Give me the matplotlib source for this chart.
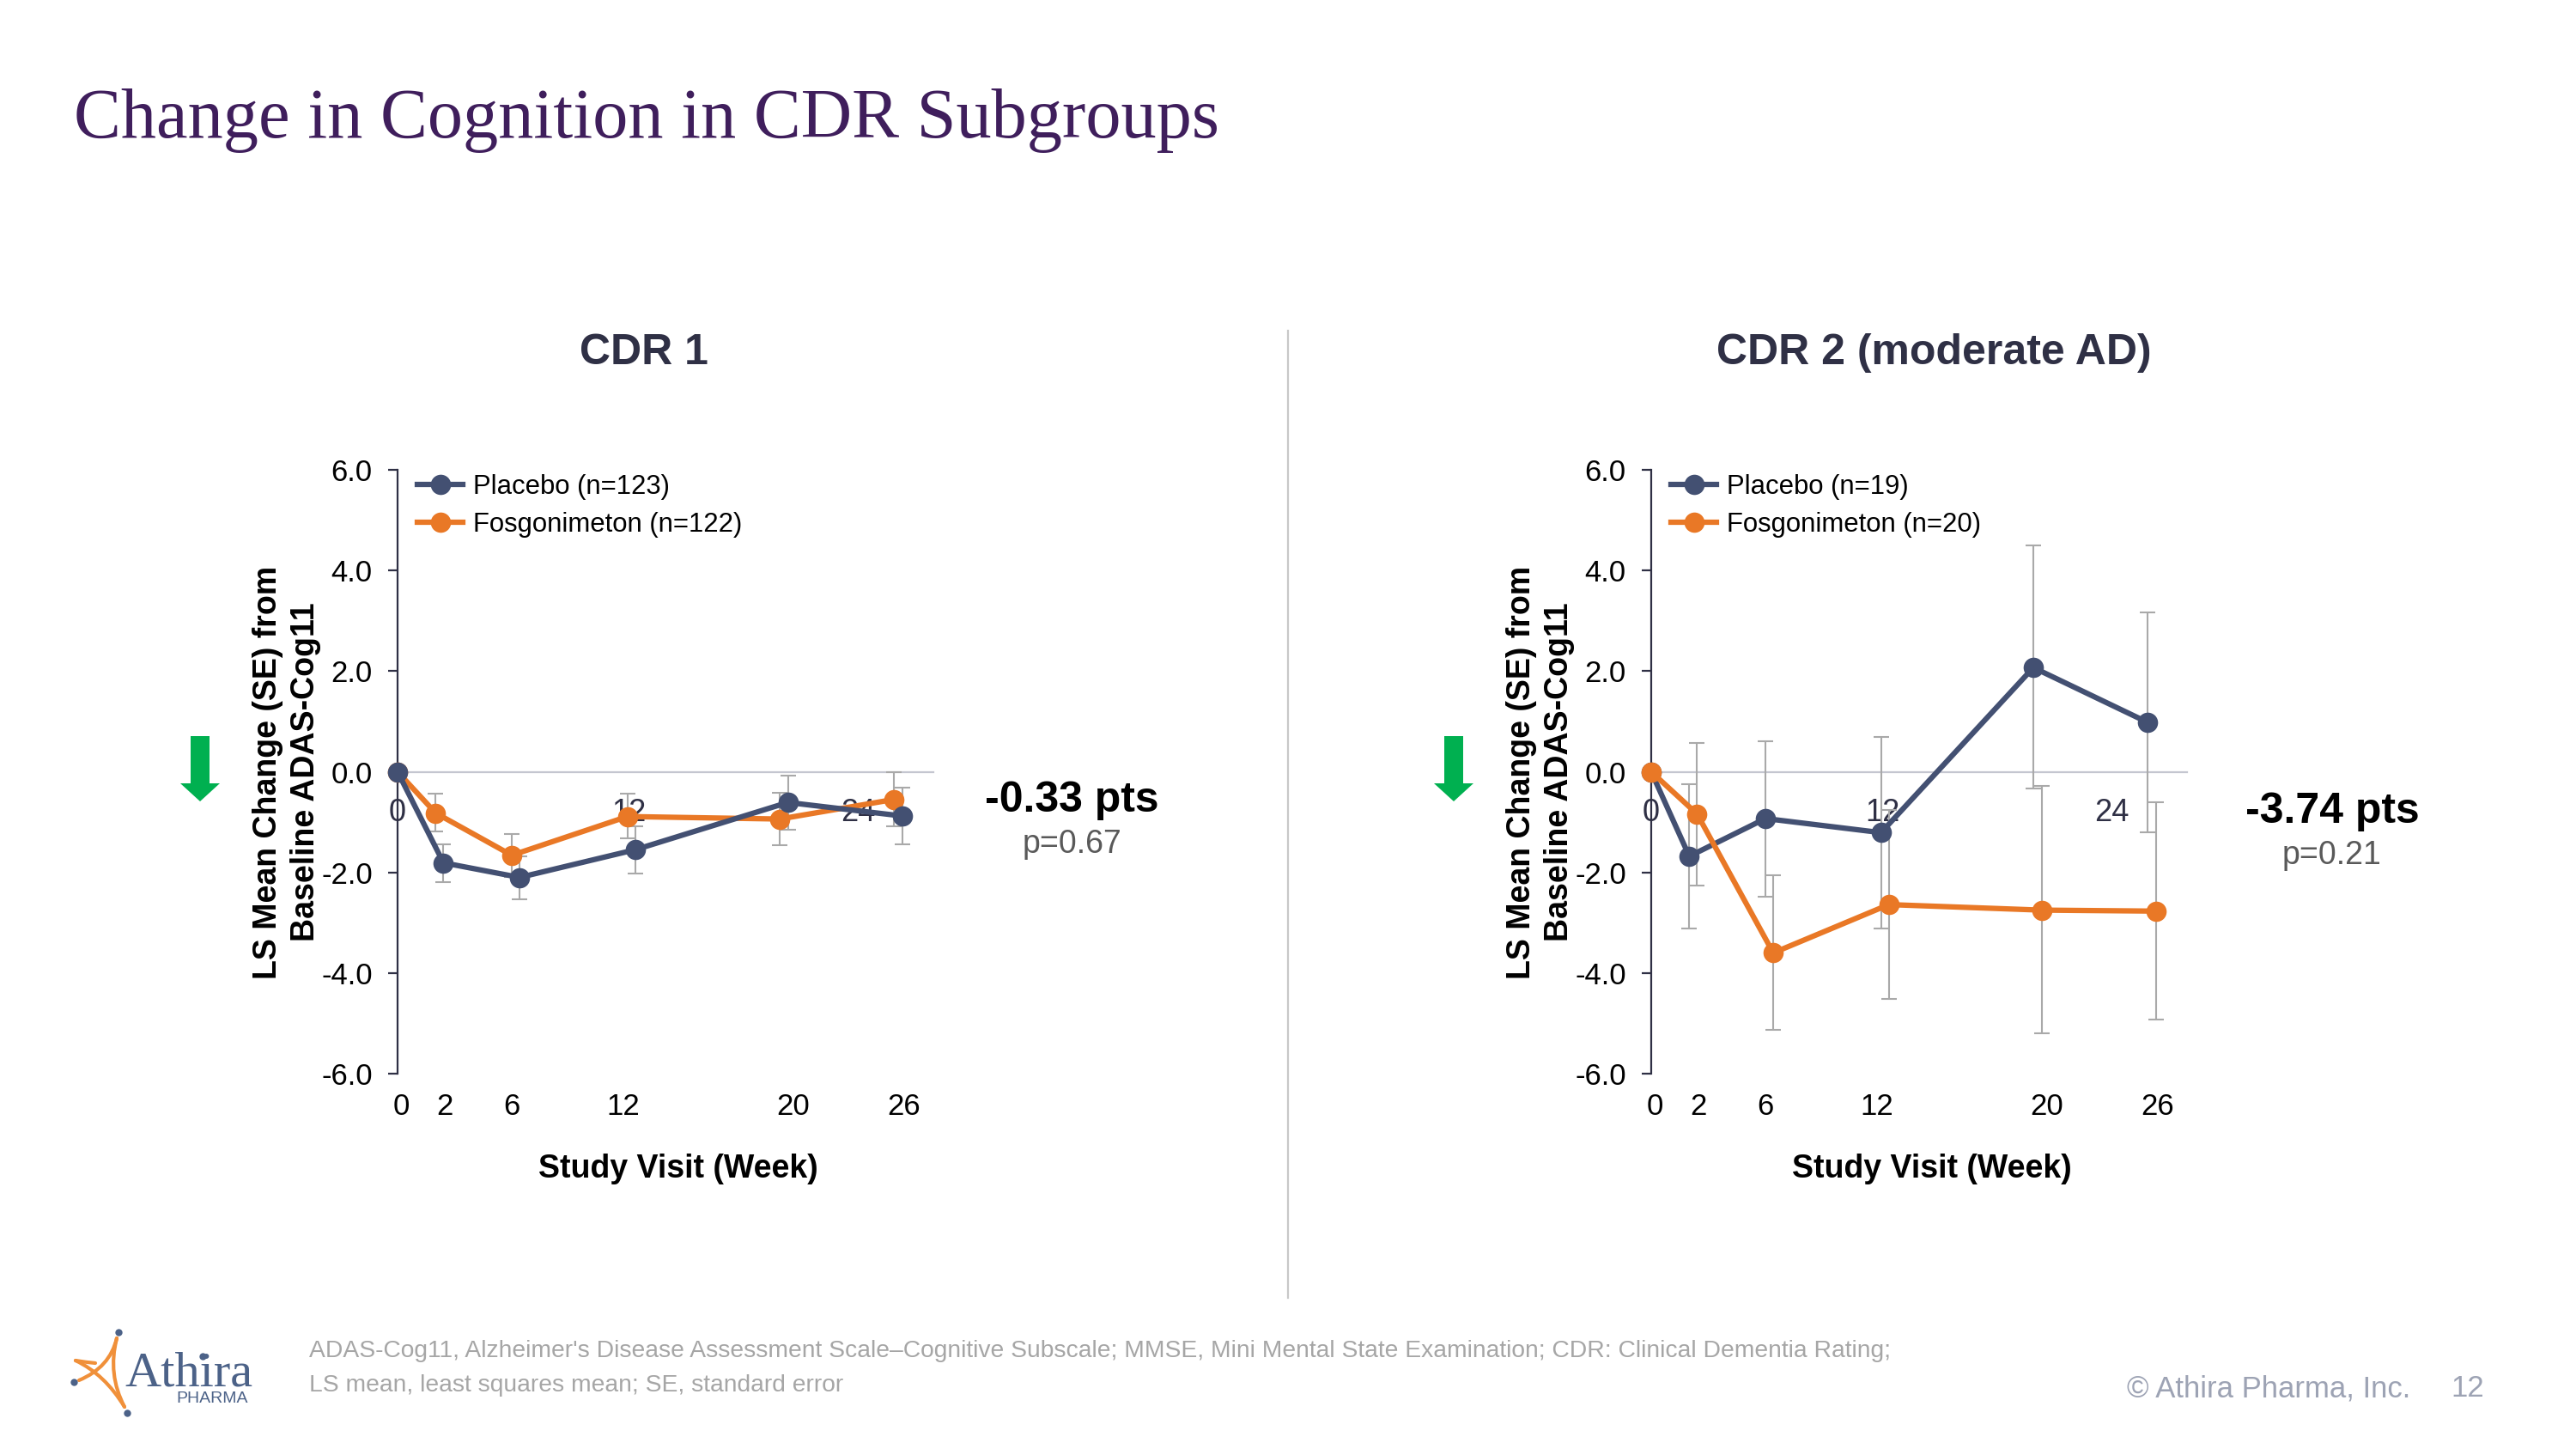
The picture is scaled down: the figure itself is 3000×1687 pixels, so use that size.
#!/usr/bin/python3

import matplotlib
matplotlib.use('Agg')
import matplotlib.pyplot as plt
from matplotlib.path import Path
from matplotlib.patches import PathPatch, Polygon

plt.rcParams['font.family'] = ['Liberation Sans', 'DejaVu Sans']
plt.rcParams['axes.unicode_minus'] = False

W = 3000
H = 1687
BLUE = '#435072'
ORANGE = '#E97826'
DARK = '#2F3045'
ERR = '#A9A9A9'
GREY = '#A6A6A6'

# week positions as drawn, the two series are dodged
x_a = [0, 2.0, 6.0, 12.07, 20.07, 26.08]
x_b = [0, 2.41, 6.41, 12.48, 20.5, 26.52]

# CDR 1
placebo_1 = [0, -1.81, -2.10, -1.55, -0.61, -0.88]
placebo_1_hi = [0, -1.44, -1.68, -1.09, -0.08, -0.31]
placebo_1_lo = [0, -2.20, -2.53, -2.02, -1.16, -1.44]
fosgo_1 = [0, -0.82, -1.66, -0.89, -0.94, -0.55]
fosgo_1_hi = [0, -0.44, -1.23, -0.43, -0.41, 0.0]
fosgo_1_lo = [0, -1.18, -2.09, -1.33, -1.46, -1.09]

# CDR 2
placebo_2 = [0, -1.68, -0.93, -1.21, 2.07, 0.98]
placebo_2_hi = [0, -0.24, 0.61, 0.69, 4.49, 3.17]
placebo_2_lo = [0, -3.12, -2.48, -3.12, -0.33, -1.21]
fosgo_2 = [0, -0.84, -3.60, -2.64, -2.75, -2.77]
fosgo_2_hi = [0, 0.57, -2.06, -0.76, -0.29, -0.61]
fosgo_2_lo = [0, -2.26, -5.13, -4.51, -5.19, -4.92]

y_ticks = [-6, -4, -2, 0, 2, 4, 6]
y_labels = ['-6.0', '-4.0', '-2.0', '0.0', '2.0', '4.0', '6.0']
axis_ticks = [0, 12.15, 24.2]
axis_labels = ['0', '12', '24']
week_labels = ['0', '2', '6', '12', '20', '26']
week_label_x = [0.2, 2.5, 6.0, 11.83, 20.76, 26.6]


def make_panel(left, xs_p, xs_f, p, p_hi, p_lo, f, f_hi, f_lo, p_label, f_label, p_top):
    ax = fig.add_axes([left / W, 1 - 1250 / H, 624 / W, 703 / H])
    ax.set_xlim(0, 28.14)
    ax.set_ylim(-6, 6)
    ax.patch.set_alpha(0)

    for xs, ys, hi, lo, col, lab, z in [
            (xs_p, p, p_hi, p_lo, BLUE, p_label, 5 if p_top else 4),
            (xs_f, f, f_hi, f_lo, ORANGE, f_label, 4 if p_top else 5)]:
        err = [[y - l for y, l in zip(ys, lo)], [h - y for y, h in zip(ys, hi)]]
        ax.errorbar(xs[1:], ys[1:], yerr=[err[0][1:], err[1][1:]], fmt='none', ecolor=ERR,
                    elinewidth=1.5, capsize=6.5, capthick=1.5, zorder=3)
        ax.plot(xs, ys, color=col, lw=4.5, marker='o', ms=17, mew=0, label=lab,
                zorder=z, clip_on=False)

    ax.spines['top'].set_visible(False)
    ax.spines['right'].set_visible(False)
    ax.spines['left'].set_color(DARK)
    ax.spines['left'].set_linewidth(1.6)
    ax.spines['bottom'].set_position(('data', 0))
    ax.spines['bottom'].set_color('#C4C6D0')
    ax.spines['bottom'].set_linewidth(1.6)

    ax.set_yticks(y_ticks)
    ax.set_yticklabels(y_labels)
    ax.tick_params(axis='y', length=8, width=1.6, color=DARK, labelsize=25, labelcolor='black', pad=13)
    ax.set_xticks(axis_ticks)
    ax.set_xticklabels(axis_labels)
    ax.tick_params(axis='x', length=0, labelsize=26, labelcolor=DARK, pad=22)

    for lab, xp in zip(week_labels, week_label_x):
        ax.text(xp, -6.65, lab, fontsize=25, ha='center', va='center', color='black')

    ax.legend(loc='upper left', bbox_to_anchor=(0.03, 1.0), frameon=False, fontsize=22.4,
              handlelength=1.7, handletextpad=0.37, labelspacing=0.46, borderpad=0, borderaxespad=0.15)


def bez(points, col, lw):
    codes = [Path.MOVETO] + [Path.CURVE3] * (len(points) - 1)
    page.add_patch(PathPatch(Path(points, codes), fc='none', ec=col, lw=lw, capstyle='round'))


fig = plt.figure(figsize=(W / 100, H / 100), dpi=100, facecolor='white')

page = fig.add_axes([0, 0, 1, 1])
page.set_xlim(0, W)
page.set_ylim(H, 0)
page.axis('off')

page.text(86, 140, 'Change in Cognition in CDR Subgroups', family='Liberation Serif', fontsize=59.3,
          color='#3F1E5C', ha='left', va='center')

page.text(750, 411, 'CDR 1', fontsize=36, fontweight='bold', color=DARK, ha='center', va='center')
page.text(2252, 411, 'CDR 2 (moderate AD)', fontsize=36, fontweight='bold', color=DARK, ha='center', va='center')
page.plot([1500, 1500], [385, 1511], color='#C8C8C8', lw=1.6)

for dx, big, small, xt, yb, ys in [(0, '-0.33 pts', 'p=0.67', 1248, 932, 983),
                                   (1460, '-3.74 pts', 'p=0.21', 2716, 945, 996)]:
    page.text(334 + dx, 899, 'LS Mean Change (SE) from\nBaseline ADAS-Cog11', rotation=90, fontsize=27,
              fontweight='bold', color='black', ha='center', va='center', linespacing=1.3)
    page.text(790 + dx, 1361, 'Study Visit (Week)', fontsize=27, fontweight='bold', color='black',
              ha='center', va='center')
    page.add_patch(Polygon([(222 + dx, 857), (244 + dx, 857), (244 + dx, 912), (256 + dx, 912),
                            (233 + dx, 933), (210 + dx, 912), (222 + dx, 912)], fc='#00B050', ec='none'))
    page.text(xt, yb, big, fontsize=36, fontweight='bold', color='black', ha='center', va='center')
    page.text(xt, ys, small, fontsize=27, color='#595959', ha='center', va='center')

page.text(360, 1573, "ADAS-Cog11, Alzheimer's Disease Assessment Scale\u2013Cognitive Subscale; MMSE, Mini Mental "
          "State Examination; CDR: Clinical Dementia Rating;", fontsize=20.3, color=GREY, va='center')
page.text(360, 1613, 'LS mean, least squares mean; SE, standard error', fontsize=20.3, color=GREY, va='center')
page.text(2477, 1617, '\u00a9 Athira Pharma, Inc.', fontsize=25, color='#9DA3B4', va='center')
page.text(2893, 1617, '12', fontsize=25, color='#9DA3B4', va='center', ha='right')

# logo
for dot in [(138, 1551), (86, 1609), (148, 1645), (236, 1579)]:
    page.plot(*dot, 'o', color='#4C6288', ms=6, mew=0)
bez([(136, 1558), (128, 1592), (92, 1607)], '#F0903A', 3)
bez([(88, 1584), (122, 1600), (145, 1638)], '#F0903A', 3)
bez([(136, 1558), (125, 1600), (145, 1638)], '#F0903A', 3)
bez([(88, 1584), (100, 1586), (111, 1587)], '#F0903A', 3)
page.text(145, 1613, 'Athira', family='Liberation Serif', fontsize=42, color='#4C6288', va='baseline')
page.text(205, 1633, 'PHARMA', fontsize=14, color='#4C6288', va='baseline')

make_panel(463, x_b, x_a, placebo_1, placebo_1_hi, placebo_1_lo, fosgo_1, fosgo_1_hi, fosgo_1_lo,
           'Placebo (n=123)', 'Fosgonimeton (n=122)', True)
make_panel(1923, x_a, x_b, placebo_2, placebo_2_hi, placebo_2_lo, fosgo_2, fosgo_2_hi, fosgo_2_lo,
           'Placebo (n=19)', 'Fosgonimeton (n=20)', False)

fig.savefig('out.png', dpi=100)
